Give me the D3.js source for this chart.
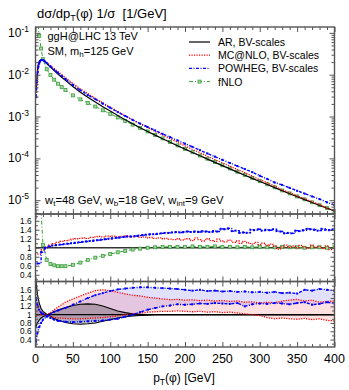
<!DOCTYPE html>
<html>
<head>
<meta charset="utf-8">
<script src="https://cdn.jsdelivr.net/npm/d3@7"></script>
<style>
body { margin: 0; background: #fff; }
svg { display: block; font-family: "Liberation Sans", Arial, sans-serif; }
</style>
</head>
<body>
<svg id="chart" width="349" height="390"></svg>
<script>

// ---- main panel: normalised pT spectra ----
let ptMain = [1, 2, 3, 4, 5, 6, 8, 10, 12, 15, 20, 25, 30, 35, 40, 50, 60, 70, 80, 90, 100,
    110, 120, 130, 140, 150, 160, 170, 180, 190, 200, 210, 220, 230, 240, 250, 260, 270, 280, 290, 300,
    310, 320, 330, 340, 350, 360, 370, 380, 390, 400];

let arMain = [0.0045, 0.0095, 0.0145, 0.0185, 0.021, 0.0222, 0.0228, 0.0222, 0.0208, 0.0185, 0.0152,
    0.0125, 0.0104, 0.0087, 0.0073, 0.0052, 0.0038, 0.0029, 0.00222, 0.00172, 0.00135,
    0.00106, 0.00084, 0.00067, 0.00054, 0.00044, 0.00036, 0.000295, 0.000243, 0.0002, 0.000166,
    0.000138, 0.000115, 0.000096, 0.00008, 0.000067, 0.000056, 0.000047, 0.0000395, 0.0000333, 0.000028,
    0.0000237, 0.00002, 0.0000169, 0.0000143, 0.0000121, 0.0000103, 0.0000088, 0.0000075, 0.0000064, 0.0000055];

let mcMain = [0.0040, 0.0082, 0.0130, 0.0168, 0.0192, 0.0207, 0.0222, 0.0224, 0.0216, 0.0197, 0.0165,
    0.0139, 0.0118, 0.0100, 0.0085, 0.0062, 0.00458, 0.00356, 0.00272, 0.00212, 0.00168,
    0.00131, 0.00105, 0.00083, 0.00067, 0.000545, 0.000440, 0.000362, 0.000296, 0.000242, 0.000199,
    0.000163, 0.000137, 0.000112, 0.0000935, 0.0000785, 0.0000652, 0.0000545, 0.0000452, 0.0000378, 0.0000308,
    0.0000262, 0.0000217, 0.0000175, 0.0000152, 0.0000127, 0.0000109, 0.0000092, 0.0000078, 0.0000065, 0.0000056];

let pwMain = [0.0029, 0.0068, 0.0115, 0.0158, 0.0188, 0.0208, 0.0225, 0.0224, 0.0212, 0.0190, 0.0158,
    0.0132, 0.0111, 0.0094, 0.0079, 0.0057, 0.00425, 0.00327, 0.0026, 0.00203, 0.00162,
    0.00128, 0.00103, 0.00083, 0.00068, 0.000563, 0.000465, 0.000385, 0.000322, 0.000268, 0.000224,
    0.000188, 0.000157, 0.000131, 0.000110, 0.0000925, 0.0000775, 0.0000655, 0.0000555, 0.0000468, 0.0000385,
    0.0000322, 0.0000265, 0.0000232, 0.0000197, 0.0000168, 0.0000144, 0.0000123, 0.0000106, 0.0000089, 0.0000077];

let ptFnlo = [2.5, 5, 7.5, 10, 15, 20, 25, 30, 35, 40, 50, 60, 70, 80, 90, 100, 110, 120, 130, 140, 150,
    160, 170, 180, 190, 200, 210, 220, 230, 240, 250, 260, 270, 280, 290, 300,
    310, 320, 330, 340, 350, 360, 370, 380, 390, 400];

let fnloMain = [0.25, 0.085, 0.042, 0.0235, 0.0135, 0.0098, 0.0076, 0.0061, 0.0051, 0.0043, 0.0032,
    0.00257, 0.00211, 0.00173, 0.00141, 0.00116, 0.00095, 0.00078, 0.00064, 0.00053, 0.00044,
    0.000362, 0.0003, 0.000247, 0.000204, 0.000169, 0.00014, 0.000117, 0.000098, 0.0000815, 0.0000685,
    0.0000573, 0.000048, 0.0000403, 0.000034, 0.0000285, 0.000024, 0.0000203, 0.0000171, 0.0000145,
    0.0000123, 0.0000105, 0.0000089, 0.0000076, 0.0000065, 0.0000056];

// ---- middle panel: ratio to AR (5 GeV bins) ----
let ptBin = d3.range(2.5, 400, 5);

let mcRatio = [0.86, 0.95, 1.02, 1.06, 1.09, 1.12, 1.14, 1.16, 1.17, 1.19,
    1.20, 1.21, 1.22, 1.21, 1.23, 1.24, 1.25, 1.24, 1.26, 1.25,
    1.26, 1.24, 1.25, 1.27, 1.25, 1.24, 1.26, 1.23, 1.24, 1.22,
    1.23, 1.21, 1.22, 1.20, 1.21, 1.19, 1.18, 1.20, 1.17, 1.19,
    1.20, 1.16, 1.22, 1.18, 1.15, 1.20, 1.16, 1.14, 1.19, 1.15,
    1.13, 1.17, 1.12, 1.15, 1.10, 1.14, 1.11, 1.08, 1.12, 1.07,
    1.10, 1.05, 1.08, 1.03, 0.97, 1.02, 1.06, 1.01, 1.04, 1.00,
    1.05, 1.02, 0.99, 1.06, 1.01, 1.03, 0.98, 1.04, 0.96, 1.02];

let pwRatio = [0.65, 0.90, 1.00, 1.03, 1.05, 1.06, 1.07, 1.08, 1.09, 1.10,
    1.11, 1.12, 1.13, 1.14, 1.15, 1.16, 1.17, 1.18, 1.19, 1.20,
    1.21, 1.22, 1.23, 1.24, 1.25, 1.25, 1.26, 1.27, 1.28, 1.29,
    1.30, 1.30, 1.31, 1.32, 1.33, 1.33, 1.34, 1.35, 1.34, 1.35,
    1.36, 1.35, 1.36, 1.35, 1.37, 1.36, 1.35, 1.37, 1.36, 1.42,
    1.41, 1.43, 1.37, 1.38, 1.33, 1.34, 1.33, 1.40, 1.39, 1.41,
    1.38, 1.40, 1.39, 1.41, 1.37, 1.36, 1.32, 1.33, 1.32, 1.38,
    1.37, 1.39, 1.42, 1.41, 1.40, 1.38, 1.42, 1.40, 1.39, 1.41];

let fnloRatio = [5.0, 3.6, 1.8, 1.06, 0.73, 0.64, 0.61, 0.59, 0.59, 0.59, 0.62,
    0.67, 0.73, 0.78, 0.82, 0.86, 0.90, 0.93, 0.96, 0.98, 1.00,
    1.01, 1.02, 1.02, 1.02, 1.02, 1.03, 1.02, 1.02, 1.03, 1.02,
    1.02, 1.01, 1.02, 1.01, 1.02, 1.01, 1.01, 1.02, 1.01,
    1.01, 1.00, 1.01, 1.01, 1.00, 1.01];

// ---- bottom panel: scale-variation bands ----
let ptBand = [0.5, 2.5, 5, 7.5, 10, 15, 20, 25, 30, 40, 50, 60, 70, 80, 90, 100,
    110, 120, 130, 140, 150, 160, 170, 180, 190, 200, 210, 220, 230, 240, 250,
    260, 270, 280, 290, 300, 310, 320, 330, 340, 350, 360, 370, 380, 390, 400];

let arBandA = [1.85, 1.50, 1.28, 1.15, 1.08, 1.01, 0.96, 0.91, 0.87, 0.81, 0.78, 0.77, 0.78, 0.80, 0.84, 0.88,
    0.92, 0.95, 0.97, 0.98, 0.99, 1.00, 1.00, 1.00, 1.00, 1.00, 1.00, 1.00, 1.00, 1.00, 1.00,
    1.00, 1.00, 1.00, 1.00, 1.00, 1.00, 1.00, 1.00, 1.00, 1.00, 1.00, 1.00, 1.00, 1.00, 1.00];
let arBandB = [0.70, 0.80, 0.87, 0.92, 0.95, 0.99, 1.03, 1.07, 1.11, 1.17, 1.22, 1.25, 1.26, 1.25, 1.21, 1.15,
    1.09, 1.05, 1.02, 1.01, 1.00, 1.00, 1.00, 1.00, 1.00, 1.00, 1.00, 1.00, 1.00, 1.00, 1.00,
    1.00, 1.00, 1.00, 1.00, 1.00, 1.00, 1.00, 1.00, 1.00, 1.00, 1.00, 1.00, 1.00, 1.00, 1.00];

let mcBandHi = [1.25, 1.18, 1.10, 1.05, 1.02, 1.00, 1.05, 1.12, 1.18, 1.30, 1.38, 1.45, 1.52, 1.58, 1.60, 1.58,
    1.54, 1.50, 1.47, 1.45, 1.42, 1.40, 1.38, 1.36, 1.37, 1.35, 1.36, 1.34, 1.35, 1.33, 1.34,
    1.32, 1.33, 1.30, 1.31, 1.28, 1.30, 1.29, 1.33, 1.35, 1.37, 1.33, 1.35, 1.30, 1.32, 1.33];
let mcBandLo = [0.95, 0.98, 1.00, 1.00, 1.00, 0.98, 0.95, 0.93, 0.92, 0.91, 0.90, 0.90, 0.91, 0.92, 0.93, 0.95,
    0.97, 1.00, 1.02, 1.04, 1.06, 1.07, 1.08, 1.08, 1.09, 1.08, 1.07, 1.08, 1.06, 1.07, 1.05,
    1.06, 1.04, 1.02, 1.00, 0.98, 0.93, 0.90, 0.92, 0.90, 0.89, 0.91, 0.88, 0.90, 0.86, 0.85];

let pwBandHi = [0.35, 0.55, 0.70, 0.80, 0.88, 0.95, 1.02, 1.07, 1.10, 1.16, 1.24, 1.32, 1.40, 1.47, 1.52, 1.57,
    1.61, 1.63, 1.65, 1.66, 1.66, 1.65, 1.64, 1.63, 1.62, 1.60, 1.58, 1.60, 1.57, 1.58, 1.56,
    1.57, 1.55, 1.56, 1.54, 1.55, 1.53, 1.55, 1.52, 1.53, 1.51, 1.60, 1.58, 1.62, 1.60, 1.58];
let pwBandLo = [1.40, 1.25, 1.12, 1.05, 1.02, 0.97, 0.92, 0.88, 0.85, 0.83, 0.82, 0.83, 0.84, 0.85, 0.86, 0.88,
    0.90, 0.95, 1.00, 1.06, 1.12, 1.16, 1.20, 1.22, 1.25, 1.24, 1.25, 1.27, 1.26, 1.28, 1.27,
    1.26, 1.28, 1.20, 1.25, 1.27, 1.26, 1.28, 1.27, 1.25, 1.28, 1.30, 1.24, 1.26, 1.30, 1.27];

let legendNames = ["AR, BV-scales", "MC@NLO, BV-scales", "POWHEG, BV-scales", "fNLO"];
let ratioTicks = [0.4, 0.6, 0.8, 1, 1.2, 1.4, 1.6];

// ---- layout ----
const svg = d3.select('#chart');
const left = 35.5, right = 334.5;
const mainTop = 27, mainBot = 214, midBot = 281.5, botBot = 347;

const x = d3.scaleLinear().domain([0, 400]).range([left, right]);
const yMain = d3.scaleLog().domain([Math.pow(10, -5.33), Math.pow(10, -0.86)]).range([mainBot, mainTop]);
const yMid = d3.scaleLinear().domain([0.25, 1.75]).range([midBot, mainBot]);
const yBot = d3.scaleLinear().domain([0.22, 1.8]).range([botBot, midBot]);

const colAR = '#000', colMC = '#ff0000', colPW = '#0000ff', colFN = '#3a9e3a';
const frameCol = '#555';

// clip paths
let defs = svg.append('defs');
[['clipMain', mainTop, mainBot], ['clipMid', mainBot, midBot], ['clipBot', midBot, botBot]].forEach(c => {
    defs.append('clipPath').attr('id', c[0])
        .append('rect').attr('x', left).attr('y', c[1]).attr('width', right - left).attr('height', c[2] - c[1]);
});

function zip(xs, ys) {
    return xs.map((v, i) => [v, ys[i]]);
}

function drawLine(g, pts, y, opts) {
    let line = d3.line().x(d => x(d[0])).y(d => y(d[1]));
    if (opts.step) line.curve(d3.curveStepAfter);
    g.append('path')
        .attr('d', line(pts))
        .attr('fill', 'none')
        .attr('stroke', opts.color)
        .attr('stroke-width', opts.width || 1.2)
        .attr('stroke-dasharray', opts.dash || null);
    if (opts.marker == 'dot') {
        g.selectAll(null).data(pts).join('rect')
            .attr('x', d => x(d[0]) - 1).attr('y', d => y(d[1]) - 1)
            .attr('width', 2).attr('height', 2)
            .attr('fill', opts.color);
    }
    if (opts.marker == 'square') {
        g.selectAll(null).data(pts).join('rect')
            .attr('x', d => x(d[0]) - 1.5).attr('y', d => y(d[1]) - 1.5)
            .attr('width', 3).attr('height', 3)
            .attr('fill', '#a8d8a8')
            .attr('stroke', opts.color).attr('stroke-width', 0.8);
    }
}

function drawBand(g, xs, lo, hi, y, fill) {
    let area = d3.area().x(d => x(d[0])).y0(d => y(d[1])).y1(d => y(d[2]));
    g.append('path')
        .attr('d', area(xs.map((v, i) => [v, lo[i], hi[i]])))
        .attr('fill', fill)
        .attr('stroke', 'none');
}

// ---- main panel ----
let gMain = svg.append('g').attr('clip-path', 'url(#clipMain)');
drawLine(gMain, zip(ptFnlo, fnloMain), yMain, {color: colFN, width: 1, dash: '4,2,1,2', marker: 'square'});
drawLine(gMain, zip(ptMain, arMain), yMain, {color: colAR, width: 1.2});
drawLine(gMain, zip(ptMain, mcMain), yMain, {color: colMC, width: 1.3, dash: '1.2,1.3'});
drawLine(gMain, zip(ptMain, pwMain), yMain, {color: colPW, width: 1.4, dash: '3,1.5,1,1.5', marker: 'dot'});

// ---- middle panel ----
let gMid = svg.append('g').attr('clip-path', 'url(#clipMid)');
gMid.append('line').attr('x1', left).attr('x2', right)
    .attr('y1', yMid(1)).attr('y2', yMid(1))
    .attr('stroke', '#333').attr('stroke-width', 1.6);
drawLine(gMid, zip(ptFnlo, fnloRatio), yMid, {color: colFN, width: 1, dash: '4,2,1,2', marker: 'square'});
drawLine(gMid, zip(ptBin, mcRatio), yMid, {color: colMC, width: 1.3, dash: '1.2,1.3', step: true});
drawLine(gMid, zip(ptBin, pwRatio), yMid, {color: colPW, width: 1.4, dash: '3,1.5,1,1.5', step: true, marker: 'dot'});

// ---- bottom panel ----
let gBot = svg.append('g').attr('clip-path', 'url(#clipBot)');
drawBand(gBot, ptBand, pwBandLo, pwBandHi, yBot, 'rgba(90,90,255,0.18)');
drawBand(gBot, ptBand, mcBandLo, mcBandHi, yBot, 'rgba(255,60,60,0.16)');
drawBand(gBot, ptBand, arBandA, arBandB, yBot, 'rgba(40,40,40,0.28)');
gBot.append('line').attr('x1', left).attr('x2', right)
    .attr('y1', yBot(1)).attr('y2', yBot(1))
    .attr('stroke', '#000').attr('stroke-width', 1.2);
drawLine(gBot, zip(ptBand, arBandA), yBot, {color: colAR, width: 1.1});
drawLine(gBot, zip(ptBand, arBandB), yBot, {color: colAR, width: 1.1});
drawLine(gBot, zip(ptBand, mcBandHi), yBot, {color: colMC, width: 1.3, dash: '1.2,1.3'});
drawLine(gBot, zip(ptBand, mcBandLo), yBot, {color: colMC, width: 1.3, dash: '1.2,1.3'});
drawLine(gBot, zip(ptBand, pwBandHi), yBot, {color: colPW, width: 1.4, dash: '3,1.5,1,1.5', marker: 'dot'});
drawLine(gBot, zip(ptBand, pwBandLo), yBot, {color: colPW, width: 1.4, dash: '3,1.5,1,1.5', marker: 'dot'});

// ---- axes / ticks (inward, mirrored) ----
function styleAxis(sel) {
    sel.select('.domain').remove();
    sel.selectAll('line').attr('stroke', frameCol).attr('stroke-width', 1);
    sel.selectAll('text').remove();
}

let majorX = d3.range(0, 401, 50);
let minorX = d3.range(0, 401, 10).filter(v => v % 50 != 0);

[[mainTop, mainBot], [mainBot, midBot], [midBot, botBot]].forEach(p => {
    svg.append('g').attr('transform', `translate(0,${p[1]})`)
        .call(d3.axisBottom(x).tickValues(majorX).tickSize(-5)).call(styleAxis);
    svg.append('g').attr('transform', `translate(0,${p[1]})`)
        .call(d3.axisBottom(x).tickValues(minorX).tickSize(-3)).call(styleAxis);
    svg.append('g').attr('transform', `translate(0,${p[0]})`)
        .call(d3.axisTop(x).tickValues(majorX).tickSize(-5)).call(styleAxis);
    svg.append('g').attr('transform', `translate(0,${p[0]})`)
        .call(d3.axisTop(x).tickValues(minorX).tickSize(-3)).call(styleAxis);
});

let decades = [1e-5, 1e-4, 1e-3, 1e-2, 1e-1];
let minorLog = [];
for (let dd of [1e-6, 1e-5, 1e-4, 1e-3, 1e-2, 1e-1]) {
    for (let m = 2; m <= 9; m++) minorLog.push(dd * m);
}
minorLog = minorLog.filter(v => v > yMain.domain()[0] && v < yMain.domain()[1]);

function yTicks(scale, major, minor, majorLen, minorLen) {
    svg.append('g').attr('transform', `translate(${left},0)`)
        .call(d3.axisLeft(scale).tickValues(major).tickSize(-majorLen)).call(styleAxis);
    svg.append('g').attr('transform', `translate(${left},0)`)
        .call(d3.axisLeft(scale).tickValues(minor).tickSize(-minorLen)).call(styleAxis);
    svg.append('g').attr('transform', `translate(${right},0)`)
        .call(d3.axisRight(scale).tickValues(major).tickSize(-majorLen)).call(styleAxis);
    svg.append('g').attr('transform', `translate(${right},0)`)
        .call(d3.axisRight(scale).tickValues(minor).tickSize(-minorLen)).call(styleAxis);
}
yTicks(yMain, decades, minorLog, 5, 3);
let minorR = [0.3, 0.5, 0.7, 0.9, 1.1, 1.3, 1.5, 1.7];
yTicks(yMid, ratioTicks, minorR, 4, 2.5);
yTicks(yBot, ratioTicks, minorR, 4, 2.5);

// frames
[[mainTop, mainBot], [mainBot, midBot], [midBot, botBot]].forEach(p => {
    svg.append('rect').attr('x', left).attr('y', p[0])
        .attr('width', right - left).attr('height', p[1] - p[0])
        .attr('fill', 'none').attr('stroke', frameCol).attr('stroke-width', 1.4);
});

// ---- tick labels ----
let lblMain = svg.append('g').attr('font-size', 12).attr('fill', '#000').attr('text-anchor', 'end');
decades.forEach(v => {
    let t = lblMain.append('text').attr('x', 29).attr('y', yMain(v) + 4);
    t.append('tspan').text('10');
    t.append('tspan').attr('font-size', 8.5).attr('dy', -5).text('-' + Math.round(-Math.log10(v)));
});

[yMid, yBot].forEach(s => {
    svg.append('g').attr('font-size', 8.2).attr('text-anchor', 'end')
        .selectAll('text').data(ratioTicks).join('text')
        .attr('x', 31.5).attr('y', d => s(d) + 3)
        .text(d => d);
});

svg.append('g').attr('font-size', 12.5).attr('text-anchor', 'middle')
    .selectAll('text').data(majorX).join('text')
    .attr('x', d => x(d)).attr('y', 362.5)
    .text(d => d);

// axis titles
let xt = svg.append('text').attr('x', 184).attr('y', 382).attr('font-size', 12).attr('text-anchor', 'middle');
xt.append('tspan').text('p');
xt.append('tspan').attr('font-size', 8.5).attr('dy', 3).text('T');
xt.append('tspan').attr('dy', -3).text('(φ) [GeV]');

let tt = svg.append('text').attr('x', 37).attr('y', 17.5).attr('font-size', 13);
tt.append('tspan').text('dσ/dp');
tt.append('tspan').attr('font-size', 9).attr('dy', 3).text('T');
tt.append('tspan').attr('dy', -3).text('(φ) 1/σ\u00a0\u00a0[1/GeV]');

// annotations
svg.append('text').attr('x', 47.5).attr('y', 39.5).attr('font-size', 11).text('ggH@LHC 13 TeV');
let sm = svg.append('text').attr('x', 47.5).attr('y', 54.5).attr('font-size', 11);
sm.append('tspan').text('SM, m');
sm.append('tspan').attr('font-size', 8).attr('dy', 2.5).text('h');
sm.append('tspan').attr('dy', -2.5).text('=125 GeV');

let wt = svg.append('text').attr('x', 45).attr('y', 203.5).attr('font-size', 11.3);
wt.append('tspan').text('w');
wt.append('tspan').attr('font-size', 8).attr('dy', 2.5).text('t');
wt.append('tspan').attr('dy', -2.5).text('=48 GeV, w');
wt.append('tspan').attr('font-size', 8).attr('dy', 2.5).text('b');
wt.append('tspan').attr('dy', -2.5).text('=18 GeV, w');
wt.append('tspan').attr('font-size', 8).attr('dy', 2.5).text('int');
wt.append('tspan').attr('dy', -2.5).text('=9 GeV');

// ---- legend ----
let legStyles = [
    {color: colAR, width: 1.2},
    {color: colMC, width: 1.3, dash: '1.2,1.3'},
    {color: colPW, width: 1.4, dash: '3,1.5,1,1.5'},
    {color: colFN, width: 1, dash: '4,2,1,2', marker: true}
];
let leg = svg.append('g');
legendNames.forEach((name, i) => {
    let yy = 42 + i * 13.2;
    let st = legStyles[i];
    leg.append('line').attr('x1', 189).attr('x2', 210).attr('y1', yy).attr('y2', yy)
        .attr('stroke', st.color).attr('stroke-width', st.width)
        .attr('stroke-dasharray', st.dash || null);
    if (st.marker) {
        leg.append('rect').attr('x', 198).attr('y', yy - 1.5).attr('width', 3).attr('height', 3)
            .attr('fill', '#a8d8a8').attr('stroke', st.color).attr('stroke-width', 0.8);
    }
    leg.append('text').attr('x', 218).attr('y', yy + 4).attr('font-size', 10.5).text(name);
});

</script>
</body>
</html>
